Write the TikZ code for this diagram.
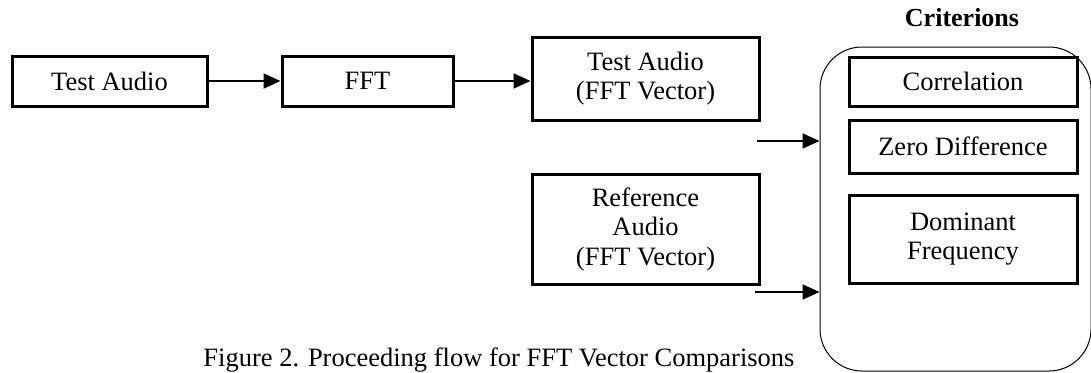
\documentclass[tikz,border=0pt]{standalone}
\usepackage{fontspec}
\setmainfont{Liberation Serif}
\usetikzlibrary{arrows.meta}
\begin{document}
\begin{tikzpicture}[x=1pt,y=-1pt,
  box/.style={draw=black,line width=3pt,inner sep=0pt,align=center,font=\fontsize{26.5}{29.5}\selectfont},
  arr/.style={line width=2pt,-{Triangle[length=17pt,width=15pt]}},
  lbl/.style={inner sep=0pt,font=\fontsize{26.5}{29.5}\selectfont}]
\useasboundingbox (0,0) rectangle (1091,372);
\node[box,minimum width=195pt,minimum height=50pt] (ta) at (109.5,81) {Test Audio};
\node[box,minimum width=171pt,minimum height=50pt] (fft) at (367.5,81) {FFT};
\node[box,minimum width=227pt,minimum height=83pt] (tfv) at (645.5,78.5) {Test Audio\\(FFT Vector)};
\node[box,minimum width=227pt,minimum height=110pt] (rfv) at (645.5,229) {Reference\\Audio\\(FFT Vector)};
\node[draw=black,line width=1pt,rounded corners=42pt,minimum width=271pt,minimum height=324pt,inner sep=0pt] (crit) at (955.5,209) {};
\node[box,minimum width=228pt,minimum height=49pt] (corr) at (963,81.5) {Correlation};
\node[box,minimum width=228pt,minimum height=53pt] (zd) at (963,146.5) {Zero Difference};
\node[box,minimum width=228pt,minimum height=88pt] (dom) at (963,239) {Dominant\\Frequency};
\node[lbl,anchor=base,font=\fontsize{26}{29}\selectfont\bfseries] (crt) at (962,27) {Criterions};
\node[lbl,anchor=base] (cap) at (499,366) {Figure 2. Proceeding flow for FFT Vector Comparisons};
\draw[arr] (ta.east) -- (fft.west);
\draw[arr] (fft.east) -- (fft.east -| tfv.west);
\coordinate (a1) at (757,141);
\coordinate (a2) at (755,292);
\draw[arr] (a1) -- (a1 -| crit.west);
\draw[arr] (a2) -- (a2 -| crit.west);
\end{tikzpicture}
\end{document}
